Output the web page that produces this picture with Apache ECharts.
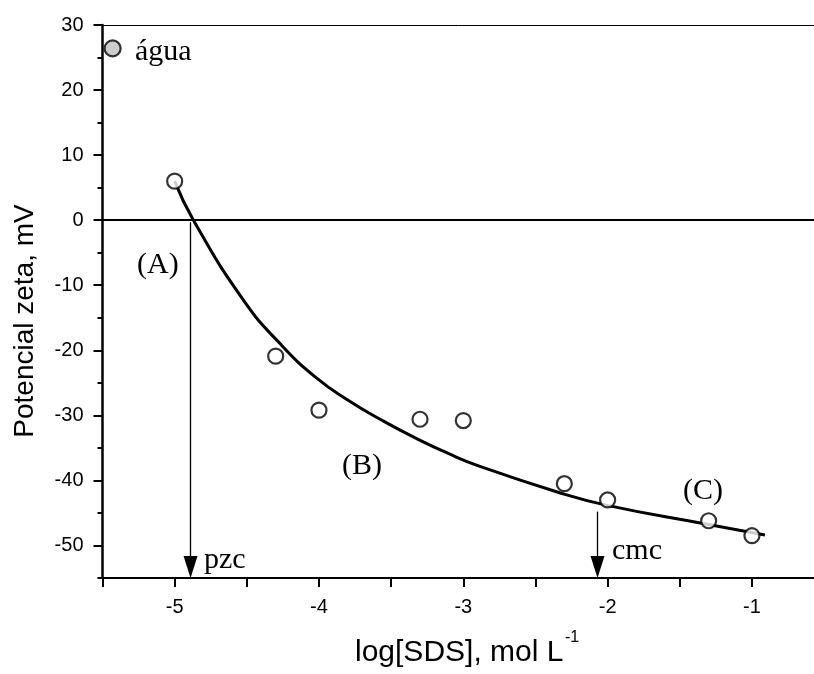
<!DOCTYPE html>
<html>
<head>
<meta charset="utf-8">
<script src="https://cdn.jsdelivr.net/npm/echarts@6/dist/echarts.min.js"></script>
<style>
  html, body { margin: 0; padding: 0; background: #fff; }
  #chart { width: 814px; height: 674px; }
</style>
</head>
<body>
<div id="chart"></div>
<script>
// Zeta potential vs. log of SDS concentration
const sdsLog = [-5.0, -4.3, -4.0, -3.3, -3.0, -2.3, -2.0, -1.3, -1.0];
const zeta   = [6.0, -20.9, -29.2, -30.6, -30.8, -40.5, -43.0, -46.2, -48.5];

// reference point measured in pure water
const waterLog  = [-5.43];
const waterZeta = [26.4];

// fitted decay curve
const fitLog  = [-5.0, -4.87, -4.52, -4.26, -4.02, -3.79, -3.56, -3.33, -3.10, -2.89, -2.36, -2.01, -1.32, -0.91];
const fitZeta = [6.0, 0.0, -12.4, -19.2, -24.2, -27.8, -30.8, -33.5, -35.9, -37.8, -41.7, -43.8, -46.7, -48.4];

// marked concentrations
const pzcLog = -4.89;
const cmcLog = -2.07;
const cmcTopZeta = -44.8;

// axis ticks
const xTickValues = [-5.5, -5, -4.5, -4, -3.5, -3, -2.5, -2, -1.5, -1];
const xTickLabels = [-5, -4, -3, -2, -1];
const yTickLabels = [-50, -40, -30, -20, -10, 0, 10, 20, 30];

const xMin = -5.5, xMax = -0.57;
const yMin = -55, yMax = 30;

const gridLeft = 102.5, gridTop = 25, gridWidth = 711.5, gridHeight = 553;
const arrowSize = [14, 22];
// the arrow tip should touch the x axis: end the shaft half a head above it
const arrowEnd = yMin + (arrowSize[1] / 2) / (gridHeight / (yMax - yMin));

const chart = echarts.init(document.getElementById('chart'), null, { renderer: 'canvas' });

const zip = (xs, ys) => xs.map((x, i) => [x, ys[i]]);

const serifFont = '"Liberation Serif", "Times New Roman", serif';
const sansFont = '"Liberation Sans", Arial, sans-serif';

chart.setOption({
  backgroundColor: '#ffffff',
  animation: false,
  grid: {
    left: gridLeft, top: gridTop, width: gridWidth, height: gridHeight,
    containLabel: false, outerBoundsMode: 'none'
  },
  xAxis: [
    {
      type: 'value', min: xMin, max: xMax,
      position: 'bottom',
      axisLine: { show: true, onZero: false, lineStyle: { color: '#000', width: 2 } },
      axisTick: { show: true, inside: false, length: 9, customValues: xTickValues, lineStyle: { color: '#000', width: 2 } },
      axisLabel: {
        show: true, margin: 19, color: '#000', fontSize: 20, fontFamily: sansFont,
        customValues: xTickLabels
      },
      splitLine: { show: false }
    },
    {
      type: 'value', min: xMin, max: xMax, position: 'top',
      axisLine: { show: true, onZero: false, lineStyle: { color: '#000', width: 1 } },
      axisTick: { show: false }, axisLabel: { show: false }, splitLine: { show: false }
    }
  ],
  yAxis: [
    {
      type: 'value', min: yMin, max: yMax, interval: 5,
      position: 'left',
      axisLine: { show: true, onZero: false, lineStyle: { color: '#000', width: 2.5 } },
      axisTick: { show: true, length: 5, lineStyle: { color: '#000', width: 2 } },
      axisLabel: {
        show: true, margin: 19, color: '#000', fontSize: 20, fontFamily: sansFont,
        customValues: yTickLabels
      },
      splitLine: { show: false }
    },
    {
      type: 'value', min: yMin, max: yMax, position: 'left',
      axisLine: { show: false },
      axisTick: { show: true, length: 9, customValues: yTickLabels, lineStyle: { color: '#000', width: 2 } },
      axisLabel: { show: false },
      splitLine: { show: false }
    }
  ],
  series: [
    {
      name: 'ajuste',
      type: 'line',
      data: zip(fitLog, fitZeta),
      smooth: 0.5,
      showSymbol: false,
      symbol: 'none',
      lineStyle: { color: '#000', width: 3 },
      z: 3,
      silent: true,
      markLine: {
        silent: true,
        symbol: ['none', 'triangle'],
        symbolSize: arrowSize,
        label: { show: false },
        lineStyle: { color: '#000', width: 1.3, type: 'solid' },
        emphasis: { disabled: true },
        data: [
          [{ coord: [pzcLog, -0.3] }, { coord: [pzcLog, arrowEnd] }],
          [{ coord: [cmcLog, cmcTopZeta] }, { coord: [cmcLog, arrowEnd] }]
        ]
      }
    },
    {
      name: 'zero',
      type: 'line',
      data: [],
      markLine: {
        silent: true,
        symbol: ['none', 'none'],
        label: { show: false },
        lineStyle: { color: '#000', width: 2, type: 'solid' },
        emphasis: { disabled: true },
        data: [{ yAxis: 0 }]
      }
    },
    {
      name: 'SDS',
      type: 'scatter',
      data: zip(sdsLog, zeta),
      symbol: 'circle',
      symbolSize: 15,
      itemStyle: { color: '#fff', borderColor: '#000', borderWidth: 2.2 },
      z: 5
    },
    {
      name: 'água',
      type: 'scatter',
      data: zip(waterLog, waterZeta),
      symbol: 'circle',
      symbolSize: 16,
      itemStyle: { color: '#c0c0c0', borderColor: '#000', borderWidth: 2.2 },
      z: 5
    }
  ],
  graphic: [
    {
      type: 'text', x: 25, y: 321, rotation: Math.PI / 2,
      style: { text: 'Potencial zeta, mV', fill: '#000', font: '28px ' + sansFont, textAlign: 'center', textVerticalAlign: 'middle' }
    },
    {
      type: 'text', x: 355, y: 652.5,
      style: { text: 'log[SDS], mol L', fill: '#000', font: '30px ' + sansFont, textAlign: 'left', textVerticalAlign: 'middle' }
    },
    {
      type: 'text', x: 565, y: 638,
      style: { text: '-1', fill: '#000', font: '16px ' + sansFont, textAlign: 'left', textVerticalAlign: 'middle' }
    },
    { type: 'text', x: 135, y: 52, style: { text: 'água', fill: '#000', font: '30px ' + serifFont, textAlign: 'left', textVerticalAlign: 'middle' } },
    { type: 'text', x: 137, y: 265, style: { text: '(A)', fill: '#000', font: '30px ' + serifFont, textAlign: 'left', textVerticalAlign: 'middle' } },
    { type: 'text', x: 342, y: 466, style: { text: '(B)', fill: '#000', font: '30px ' + serifFont, textAlign: 'left', textVerticalAlign: 'middle' } },
    { type: 'text', x: 683, y: 491, style: { text: '(C)', fill: '#000', font: '30px ' + serifFont, textAlign: 'left', textVerticalAlign: 'middle' } },
    { type: 'text', x: 204, y: 560, style: { text: 'pzc', fill: '#000', font: '30px ' + serifFont, textAlign: 'left', textVerticalAlign: 'middle' } },
    { type: 'text', x: 612, y: 551, style: { text: 'cmc', fill: '#000', font: '30px ' + serifFont, textAlign: 'left', textVerticalAlign: 'middle' } }
  ]
});
</script>
</body>
</html>
